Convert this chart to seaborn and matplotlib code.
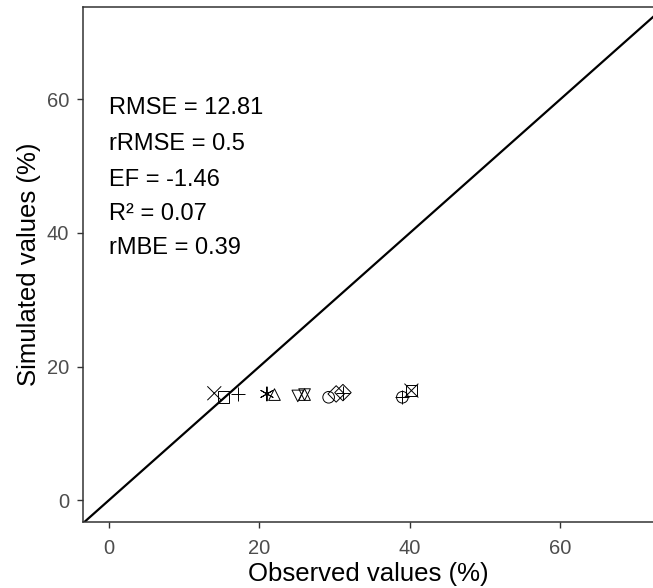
import numpy as np
import pandas as pd
import matplotlib
matplotlib.use("Agg")
import matplotlib.pyplot as plt
import seaborn as sns

# observed vs simulated values (%)
observed = [14.0, 15.2, 17.2, 21.0, 22.0, 25.1, 26.0, 29.2, 30.2, 31.1, 39.0, 40.2]
simulated = [16.0, 15.4, 15.9, 15.9, 15.8, 15.6, 15.8, 15.4, 15.9, 16.1, 15.4, 16.4]
base_shape = ['cross', 'square', 'plus', 'asterisk', 'tri_up', 'tri_down', 'tri_up',
              'circle', 'diamond', 'diamond', 'circle', 'square']
extra_shape = [None, None, None, None, None, None, 'tri_down',
               None, None, 'plus', 'plus', 'cross']

stats_labels = ['RMSE = 12.81', 'rRMSE = 0.5', 'EF = -1.46', 'R² = 0.07', 'rMBE = 0.39']
stats_y = [58.7, 53.3, 47.9, 42.8, 37.7]

marker_map = {'cross': 'x', 'plus': '+', 'asterisk': (6, 2, 0),
              'square': 's', 'circle': 'o', 'diamond': 'D',
              'tri_up': '^', 'tri_down': 'v'}
line_art = ['cross', 'plus', 'asterisk']

df = pd.DataFrame({'obs': observed, 'sim': simulated, 'shape': base_shape, 'extra': extra_shape})
over = df.dropna(subset=['extra']).copy()
over['shape'] = over['extra']
layers = pd.concat([df, over], ignore_index=True)

sns.set_theme(style="ticks")
plt.rcParams['font.family'] = ['Liberation Sans', 'DejaVu Sans']

fig = plt.figure(figsize=(6.53, 5.88), dpi=100)
ax = fig.add_axes([0.127, 0.112, 0.874, 0.876])

# 1:1 line
ax.axline((0, 0), slope=1, color='black', lw=1.6, zorder=1)

filled = layers[~layers['shape'].isin(line_art)]
lines = layers[layers['shape'].isin(line_art)]
sns.scatterplot(data=filled, x='obs', y='sim', style='shape',
                markers={k: marker_map[k] for k in filled['shape'].unique()},
                facecolor='none', edgecolor='black', linewidth=0.7, s=70,
                legend=False, ax=ax, zorder=3)
sns.scatterplot(data=lines, x='obs', y='sim', style='shape',
                markers={k: marker_map[k] for k in lines['shape'].unique()},
                color='black', linewidth=0.7, s=100,
                legend=False, ax=ax, zorder=3)

for lab, yy in zip(stats_labels, stats_y):
    ax.text(0, yy, lab, fontsize=17, va='center', ha='left', color='black')

ax.set_xlim(-3.46, 72.4)
ax.set_ylim(-3.29, 73.8)
ax.set_xticks([0, 20, 40, 60])
ax.set_yticks([0, 20, 40, 60])
ax.set_xlabel('Observed values (%)', fontsize=18.5, color='black', labelpad=3)
ax.set_ylabel('Simulated values (%)', fontsize=18.5, color='black', labelpad=4)
ax.tick_params(axis='both', colors='#333333', labelcolor='#4D4D4D', labelsize=14.5,
               length=4, width=1)
ax.tick_params(axis='x', pad=8)
ax.tick_params(axis='y', pad=6)

for side in ['left', 'bottom', 'top']:
    ax.spines[side].set_color('#333333')
    ax.spines[side].set_linewidth(1.1)
ax.spines['right'].set_visible(False)

fig.savefig('out.png', dpi=100)
